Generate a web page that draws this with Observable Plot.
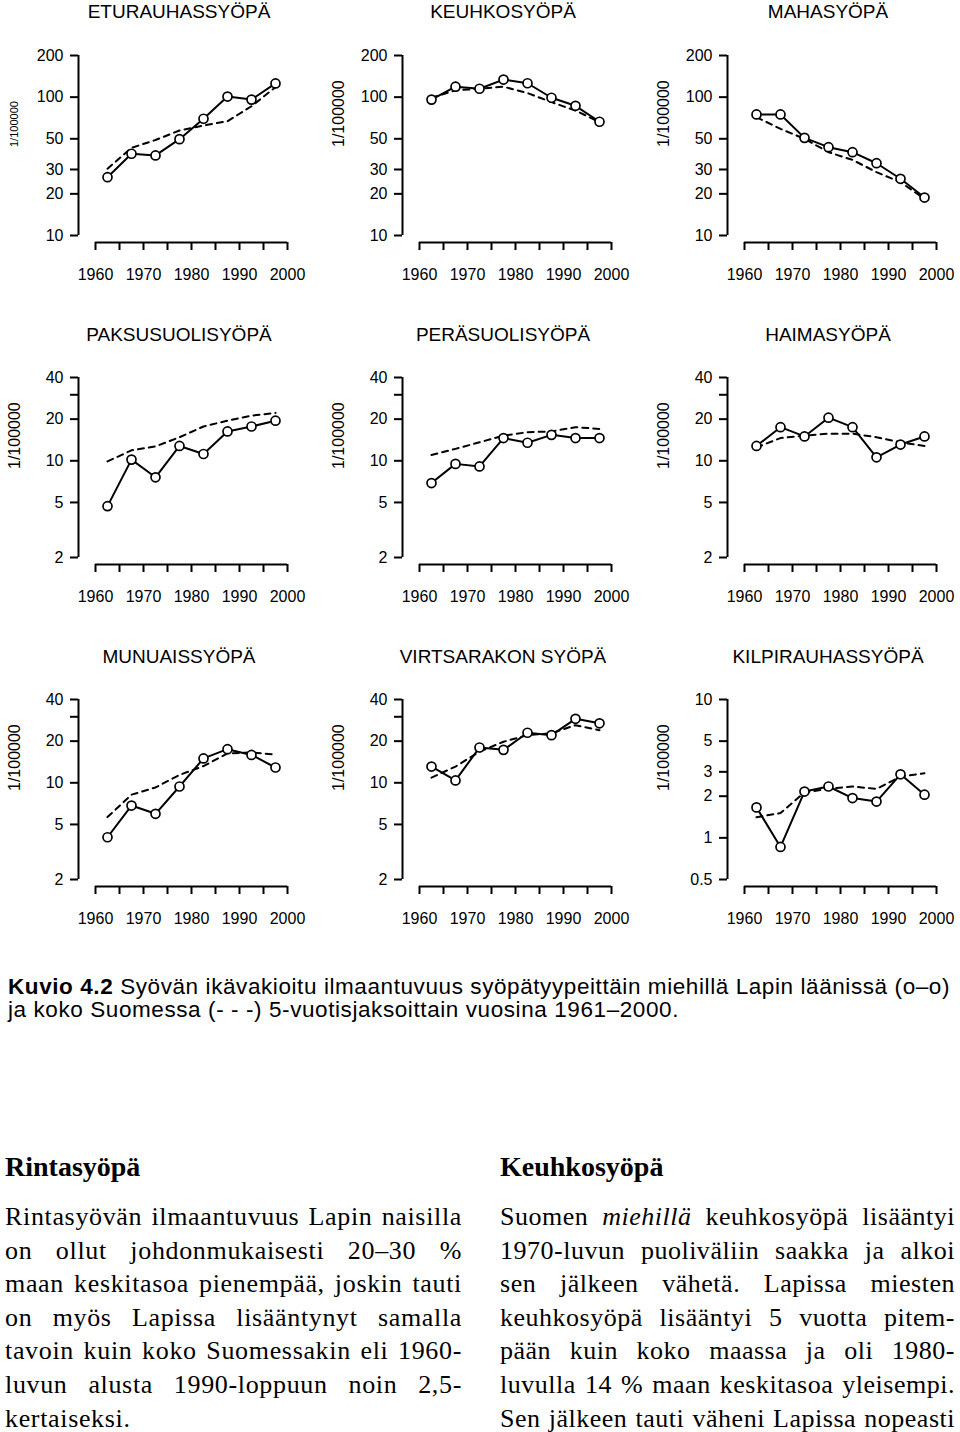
<!DOCTYPE html>
<html>
<head>
<meta charset="utf-8">
<script src="https://cdn.jsdelivr.net/npm/d3@7"></script>
<script src="https://cdn.jsdelivr.net/npm/@observablehq/plot@0.6"></script>
<style>
  html, body { margin: 0; padding: 0; background: #fff; }
  body { position: relative; width: 960px; height: 1432px; overflow: hidden; color: #000;
         font-family: "Liberation Sans", Arial, sans-serif; }
  .panel { position: absolute; width: 311px; height: 300px; }
  .panel svg { position: absolute; left: 0; top: 0; overflow: visible; }
  .ptitle { position: absolute; width: 320px; text-align: center; font-size: 19px; line-height: 22px; white-space: nowrap; }
  #caption { position: absolute; left: 8px; top: 975px; font-family: "Liberation Sans Narrow", "Liberation Sans", Arial, sans-serif;
             font-size: 22.5px; line-height: 23px; white-space: nowrap; }
  .col { position: absolute; font-family: "Liberation Serif", "Times New Roman", serif; }
  .col h3 { position: absolute; left: 0; top: 0; margin: 0; font-size: 28px; line-height: 34px; font-weight: bold; white-space: nowrap; }
  .col .body { position: absolute; left: 0; top: 50px; width: 100%; font-size: 24px; line-height: 33.6px; }
  .col .ln { height: 33.6px; white-space: nowrap; }
  .col .ln.just { text-align: justify; text-align-last: justify; white-space: normal; }
  .col .ln.just.last { text-align-last: left; }
</style>
</head>
<body>
<div id="root"></div>
<script>
// ---------- data ----------
const years = [1962.5, 1967.5, 1972.5, 1977.5, 1982.5, 1987.5, 1992.5, 1997.5];
const xTicks = [1960, 1965, 1970, 1975, 1980, 1985, 1990, 1995, 2000];
const xTickLabels = [1960, 1970, 1980, 1990, 2000];
const yAxisLabel = "1/100000";

const titles = ["ETURAUHASSYÖPÄ", "KEUHKOSYÖPÄ", "MAHASYÖPÄ",
                "PAKSUSUOLISYÖPÄ", "PERÄSUOLISYÖPÄ", "HAIMASYÖPÄ",
                "MUNUAISSYÖPÄ", "VIRTSARAKON SYÖPÄ", "KILPIRAUHASSYÖPÄ"];

const yTicksHigh = [10, 20, 30, 50, 100, 200];
const yLabelsHigh = [10, 20, 30, 50, 100, 200];
const yTicksMid = [2, 5, 10, 20, 30, 40];
const yLabelsMid = [2, 5, 10, 20, 40];
const yTicksLow = [0.5, 1, 2, 3, 5, 10];
const yLabelsLow = [0.5, 1, 2, 3, 5, 10];

// Lapin lääni (o–o) and koko Suomi (- - -), per 100 000
const eturauhasLappi   = [26.4, 39, 37.9, 49.7, 69.8, 101, 96, 125.6];
const eturauhasSuomi   = [30.4, 43, 49, 57.4, 62.4, 67, 86, 118];
const keuhkoLappi      = [96, 119, 115, 134, 126, 99, 86.6, 66.4];
const keuhkoSuomi      = [99, 112, 115, 119, 107, 92, 80, 66];
const mahaLappi        = [75, 75, 50.8, 43.5, 40, 33.3, 25.7, 18.8];
const mahaSuomi        = [71.6, 59, 50, 40, 35.2, 28.7, 24.3, 18.4];
const paksusuoliLappi  = [4.7, 10.2, 7.6, 12.8, 11.2, 16.3, 17.7, 19.5];
const paksusuoliSuomi  = [9.9, 11.9, 12.7, 14.8, 17.7, 19.5, 21.2, 22.2];
const perasuoliLappi   = [6.9, 9.5, 9.1, 14.6, 13.5, 15.4, 14.6, 14.6];
const perasuoliSuomi   = [11.0, 12.2, 13.6, 15.2, 16.1, 16.3, 17.5, 17.0];
const haimaLappi       = [12.8, 17.5, 15, 20.5, 17.5, 10.6, 13.1, 15];
const haimaSuomi       = [12.5, 14.6, 15.2, 15.7, 15.7, 14.8, 13.6, 12.8];
const munuaisLappi     = [4.04, 6.85, 5.97, 9.4, 15, 17.5, 15.9, 12.9];
const munuaisSuomi     = [5.65, 8.2, 9.25, 11.4, 13.2, 16.3, 16.6, 16];
const virtsarakkoLappi = [13.1, 10.4, 18, 17.3, 23, 22.1, 29, 26.9];
const virtsarakkoSuomi = [10.9, 13.1, 16.8, 19.8, 22.1, 22.8, 26.1, 24];
const kilpiLappi       = [1.66, 0.86, 2.16, 2.35, 1.94, 1.83, 2.88, 2.05];
const kilpiSuomi       = [1.41, 1.51, 2.13, 2.26, 2.35, 2.26, 2.77, 2.93];

const lappiSeries = [eturauhasLappi, keuhkoLappi, mahaLappi, paksusuoliLappi, perasuoliLappi,
                     haimaLappi, munuaisLappi, virtsarakkoLappi, kilpiLappi];
const suomiSeries = [eturauhasSuomi, keuhkoSuomi, mahaSuomi, paksusuoliSuomi, perasuoliSuomi,
                     haimaSuomi, munuaisSuomi, virtsarakkoSuomi, kilpiSuomi];
const tickSets  = [yTicksHigh, yTicksHigh, yTicksHigh, yTicksMid, yTicksMid, yTicksMid, yTicksMid, yTicksMid, yTicksLow];
const labelSets = [yLabelsHigh, yLabelsHigh, yLabelsHigh, yLabelsMid, yLabelsMid, yLabelsMid, yLabelsMid, yLabelsMid, yLabelsLow];

// ---------- layout ----------
const colLeft = [0, 324, 649];
const rowTop = [0, 322, 644];
const GAP_X = 17, GAP_Y = 7;

const root = document.getElementById("root");

titles.forEach((title, i) => {
  const row = Math.floor(i / 3), col = i % 3;
  const lap = years.map((year, k) => ({year, value: lappiSeries[i][k]}));
  const fin = years.map((year, k) => ({year, value: suomiSeries[i][k]}));
  const yTicks = tickSets[i], yLabels = labelSets[i];
  const yMin = d3.min(yTicks), yMax = d3.max(yTicks);
  const x0 = xTicks[0], x1 = xTicks[xTicks.length - 1];

  const chart = Plot.plot({
    width: 311, height: 300,
    marginLeft: 78, marginRight: 24, marginTop: 55, marginBottom: 58,
    style: {fontFamily: "'Liberation Sans', Arial, sans-serif", background: "transparent", color: "#000", overflow: "visible"},
    x: {domain: [x0, x1], insetLeft: GAP_X},
    y: {type: "log", domain: [yMin, yMax], insetBottom: GAP_Y},
    marks: [
      // axis lines (R style, detached from the data region)
      Plot.ruleX([x0], {y1: yMin, y2: yMax, dx: -GAP_X, stroke: "#000", strokeWidth: 2}),
      Plot.ruleY([yMin], {x1: x0, x2: x1, dy: GAP_Y, stroke: "#000", strokeWidth: 2}),
      // y ticks and labels
      Plot.axisY(yTicks, {anchor: "left", tickSize: 8, strokeWidth: 2, fill: "none", label: null}),
      Plot.text(yLabels, {y: d => d, text: d => String(d), frameAnchor: "left", textAnchor: "end",
        dx: -15, fontSize: 16, fill: "#000"}),
      // x ticks and labels
      Plot.axisX(xTicks, {anchor: "bottom", tickSize: 8, tickPadding: 18, strokeWidth: 2, fontSize: 16,
        tickFormat: d => xTickLabels.includes(d) ? String(d) : "", label: null}),
      Plot.text([yAxisLabel], {text: d => d, frameAnchor: "left", rotate: -90, dx: -64, dy: -2,
        fontSize: i === 0 ? 11 : 16, fill: "#000"}),
      Plot.line(fin, {x: "year", y: "value", stroke: "#000", strokeWidth: 2, strokeDasharray: "6,5"}),
      Plot.line(lap, {x: "year", y: "value", stroke: "#000", strokeWidth: 2}),
      Plot.dot(lap, {x: "year", y: "value", r: 4.5, fill: "#fff", stroke: "#000", strokeWidth: 1.7})
    ]
  });

  const wrap = document.createElement("div");
  wrap.className = "panel";
  wrap.style.left = colLeft[col] + "px";
  wrap.style.top = rowTop[row] + "px";
  wrap.appendChild(chart);
  const t = document.createElement("div");
  t.className = "ptitle";
  t.textContent = title;
  t.style.left = (179 - 160) + "px";
  t.style.top = (row === 0 ? 1 : 2) + "px";
  wrap.appendChild(t);
  root.appendChild(wrap);
});
</script>

<div id="caption"><span id="capl1"><b>Kuvio 4.2</b> Syövän ikävakioitu ilmaantuvuus syöpätyypeittäin miehillä Lapin läänissä (o–o)</span><br>ja koko Suomessa (- - -) 5-vuotisjaksoittain vuosina 1961–2000.</div>

<div class="col" id="col1" style="left:5px; top:1150px; width:457px;">
  <h3>Rintasyöpä</h3>
  <div class="body">
    <div class="ln"><span>Rintasyövän ilmaantuvuus Lapin naisilla</span></div>
    <div class="ln"><span>on ollut johdonmukaisesti 20–30 %</span></div>
    <div class="ln"><span>maan keskitasoa pienempää, joskin tauti</span></div>
    <div class="ln"><span>on myös Lapissa lisääntynyt samalla</span></div>
    <div class="ln"><span>tavoin kuin koko Suomessakin eli 1960-</span></div>
    <div class="ln"><span>luvun alusta 1990-loppuun noin 2,5-</span></div>
    <div class="ln last"><span>kertaiseksi.</span></div>
  </div>
</div>

<div class="col" id="col2" style="left:500px; top:1150px; width:455px;">
  <h3>Keuhkosyöpä</h3>
  <div class="body">
    <div class="ln"><span>Suomen <i>miehillä</i> keuhkosyöpä lisääntyi</span></div>
    <div class="ln"><span>1970-luvun puoliväliin saakka ja alkoi</span></div>
    <div class="ln"><span>sen jälkeen vähetä. Lapissa miesten</span></div>
    <div class="ln"><span>keuhkosyöpä lisääntyi 5 vuotta pitem-</span></div>
    <div class="ln"><span>pään kuin koko maassa ja oli 1980-</span></div>
    <div class="ln"><span>luvulla 14 % maan keskitasoa yleisempi.</span></div>
    <div class="ln"><span>Sen jälkeen tauti väheni Lapissa nopeasti</span></div>
  </div>
</div>

<script>
// Fit caption line 1 to the reference width (small letter-spacing only)
(function () {
  const span = document.getElementById("capl1");
  const w = span.getBoundingClientRect().width;
  const n = span.textContent.length;
  document.getElementById("caption").style.letterSpacing = Math.min(0.6, Math.max(0, (942 - w) / n)) + "px";
})();
// Garamond substitute: grow the serif body text up to the widest reference line, then justify
["col1", "col2"].forEach(id => {
  const col = document.getElementById(id);
  const body = col.querySelector(".body");
  const width = col.getBoundingClientRect().width - 6;
  const spans = [...col.querySelectorAll(".ln span")];
  const widest = () => spans.reduce((m, s) => Math.max(m, s.getBoundingClientRect().width), 0);
  const fs = Math.min(26, 24 * width / widest());
  body.style.fontSize = fs + "px";
  let maxW = 0, maxN = 1;
  spans.forEach(s => { const w = s.getBoundingClientRect().width; if (w > maxW) { maxW = w; maxN = s.textContent.length; } });
  body.style.letterSpacing = Math.max(0, (width - maxW) / maxN) + "px";
  col.querySelectorAll(".ln").forEach(l => l.classList.add("just"));
});
</script>
</body>
</html>
